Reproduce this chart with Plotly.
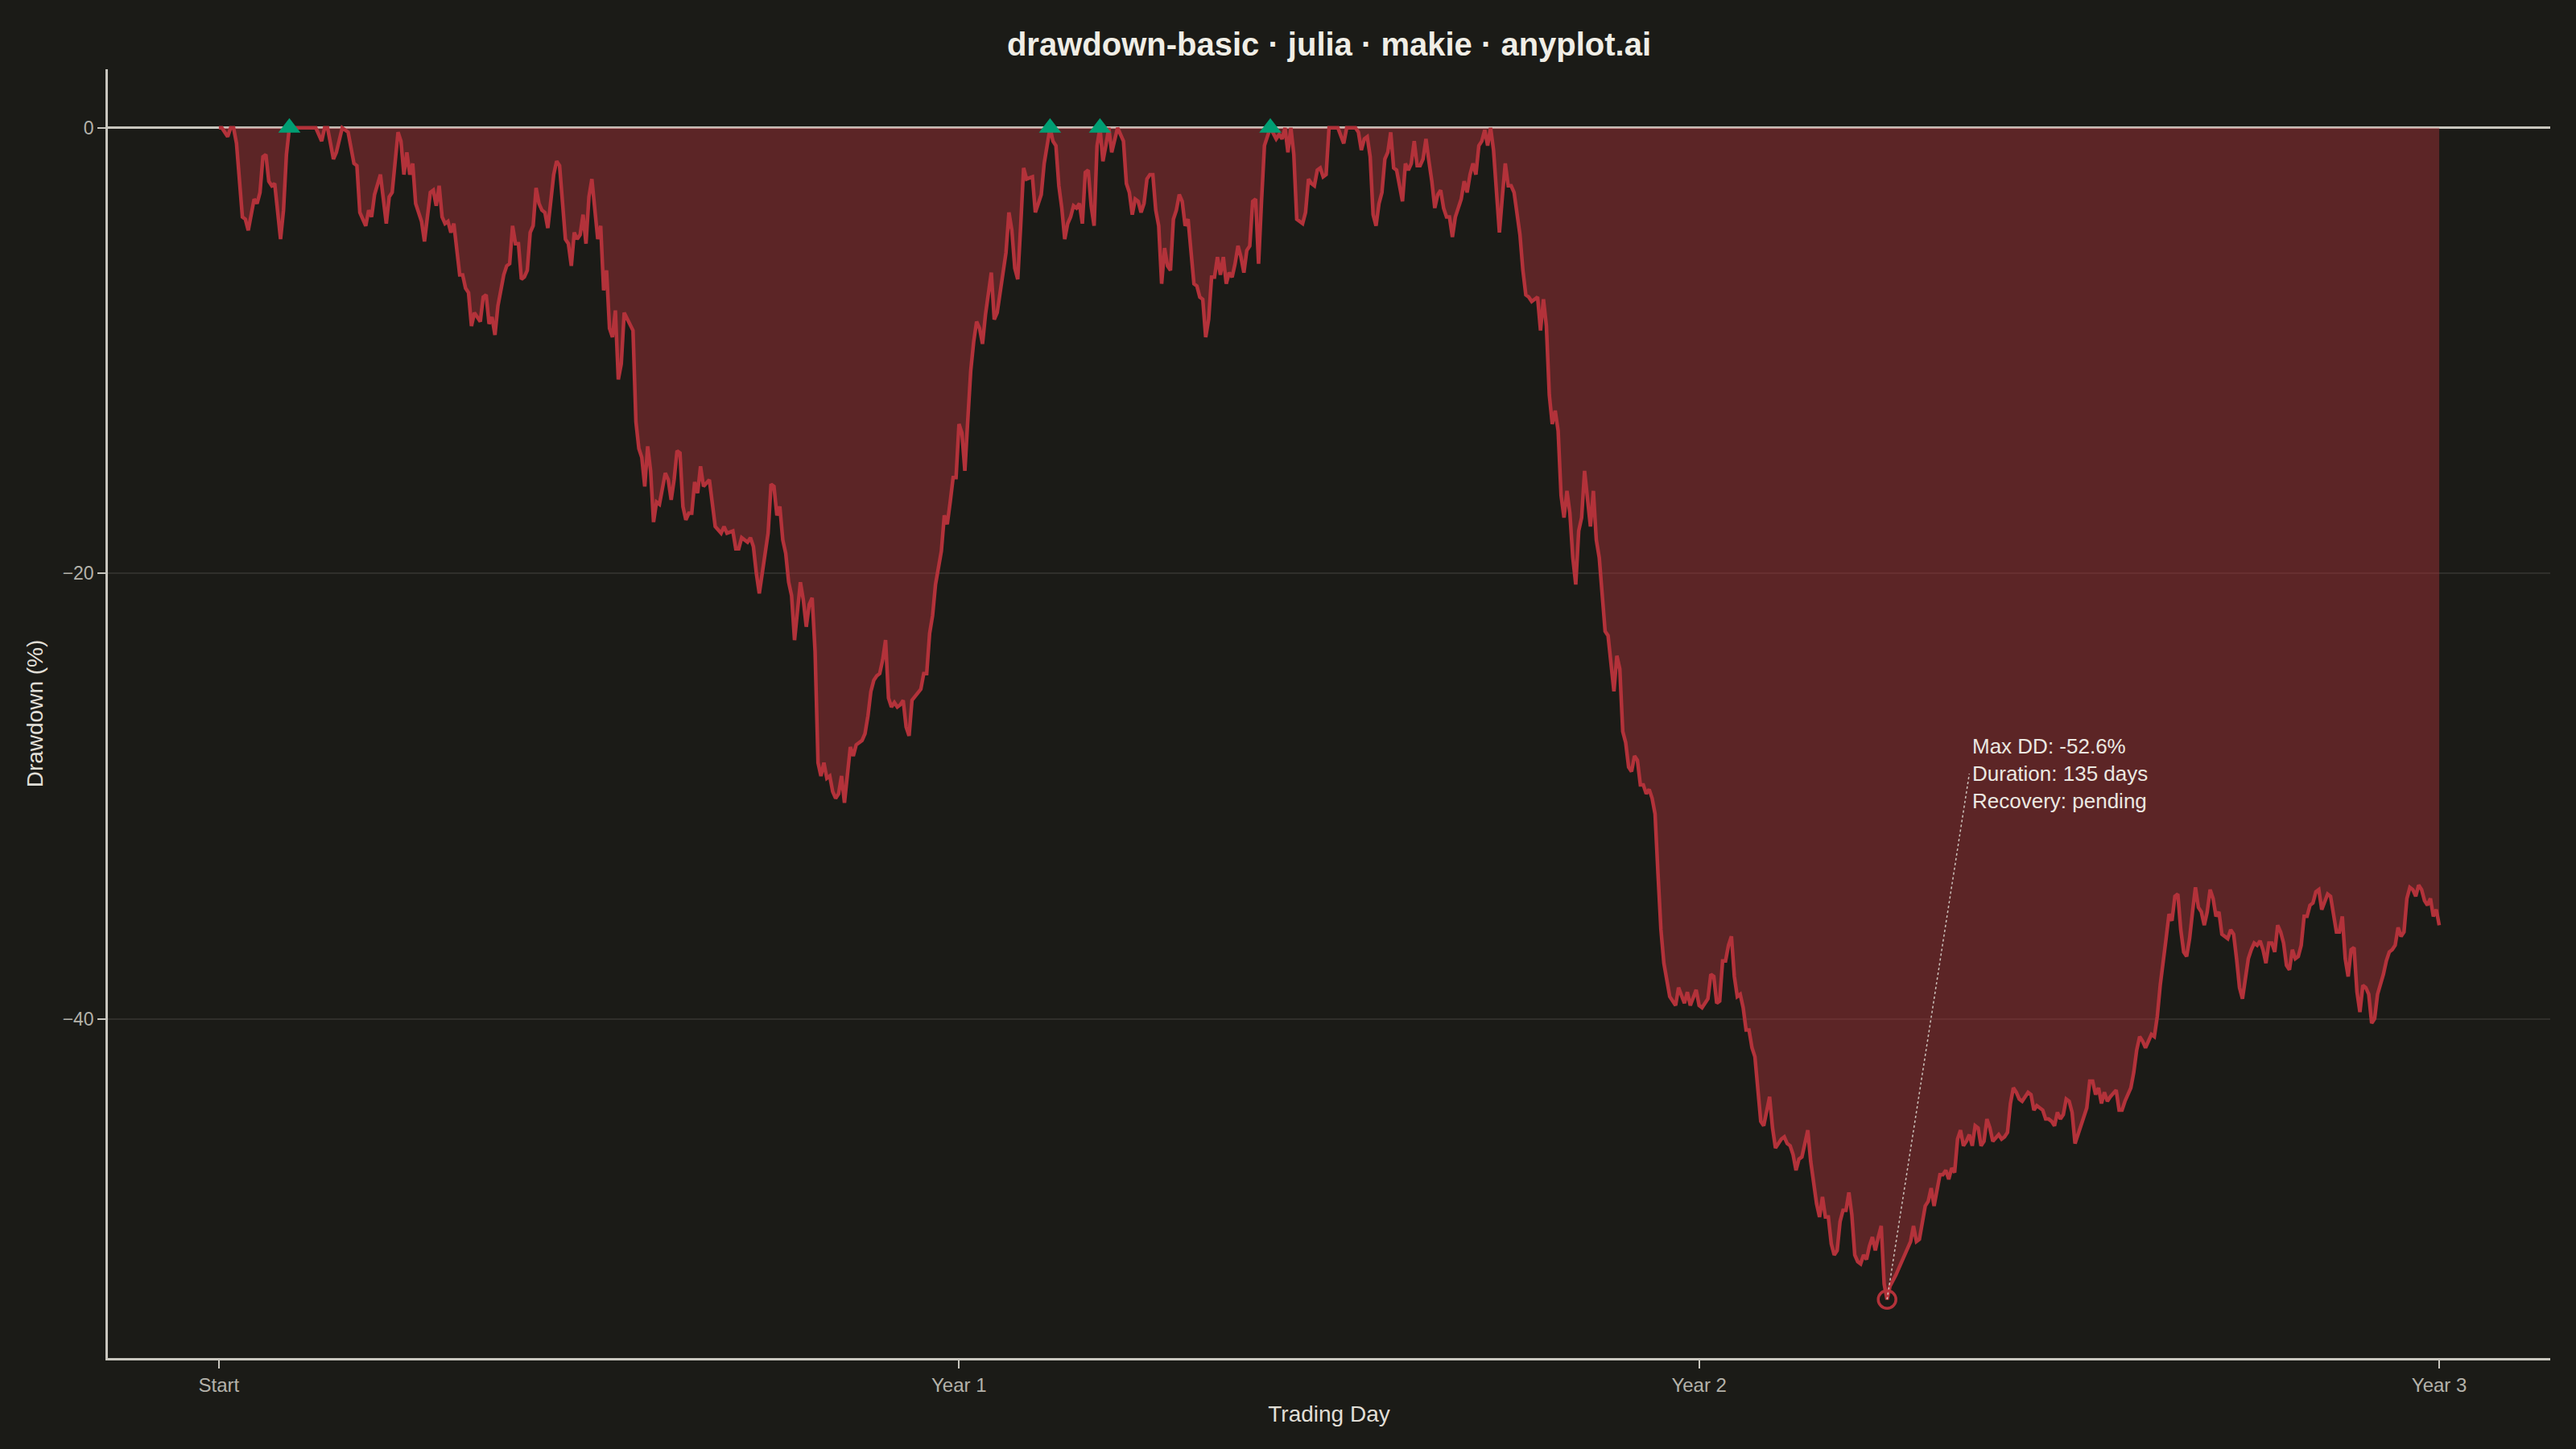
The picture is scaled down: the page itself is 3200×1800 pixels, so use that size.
import plotly.graph_objects as go

year1 = [
    (0, 0.0), (1, 0.0), (3, -0.4), (4, 0.0), (5, 0.0), (6, -0.7), (8, -4.0), (9, -4.1), (10, -4.6),
    (12, -3.2), (13, -3.4), (14, -2.9), (15, -1.3), (16, -1.2), (17, -2.4), (18, -2.6), (19, -2.5),
    (21, -5.0), (22, -3.7), (23, -1.2), (24, 0.0), (26, 0.0), (28, 0.0), (30, 0.0), (33, 0.0),
    (35, -0.6), (36, 0.0), (37, 0.0), (39, -1.4), (40, -1.1), (42, 0.0), (44, -0.2), (46, -1.6),
    (47, -1.7), (48, -3.8), (50, -4.4), (51, -3.7), (52, -4.0), (53, -3.0), (55, -2.1), (57, -4.3),
    (58, -3.1), (59, -2.9), (61, -0.2), (62, -0.6), (63, -2.1), (64, -1.1), (65, -2.1), (66, -1.6),
    (67, -3.4), (69, -4.2), (70, -5.1), (72, -2.9), (73, -2.8), (74, -3.5), (75, -2.6), (76, -4.0),
    (77, -4.3), (78, -4.2), (79, -4.7), (80, -4.3), (82, -6.6), (83, -6.6), (84, -7.2), (85, -7.4),
    (86, -8.9), (87, -8.3), (89, -8.7), (90, -7.6), (91, -7.5), (92, -8.8), (93, -8.5), (94, -9.3),
    (95, -8.0), (97, -6.6), (98, -6.2), (99, -6.1), (100, -4.4), (101, -5.2), (102, -5.2), (103, -6.8),
    (104, -6.7), (105, -6.4), (106, -4.7), (107, -4.4), (108, -2.7), (109, -3.4), (110, -3.7),
    (111, -3.8), (112, -4.5), (114, -2.1), (115, -1.5), (116, -1.7), (118, -5.0), (119, -5.2),
    (120, -6.2), (121, -4.7), (122, -5.0), (123, -4.8), (124, -3.9), (125, -5.2), (126, -3.1),
    (127, -2.3), (129, -5.0), (130, -4.4), (131, -7.3), (132, -6.4), (133, -9.0), (134, -9.4),
    (135, -8.2), (136, -11.3), (137, -10.6), (138, -8.3), (141, -9.1), (142, -13.2), (143, -14.4),
    (144, -14.8), (145, -16.1), (146, -14.3), (147, -15.4), (148, -17.7), (149, -16.8), (150, -16.9),
    (152, -15.5), (153, -15.8), (154, -16.7), (155, -15.8), (156, -14.5), (157, -14.6), (158, -17.0),
    (159, -17.6), (160, -17.3), (161, -17.3), (162, -15.9), (163, -16.4), (164, -15.2), (165, -16.1),
    (167, -15.8), (169, -17.9), (171, -18.2), (172, -17.9), (173, -18.2), (175, -18.1), (176, -18.9),
    (177, -18.9), (178, -18.4), (180, -18.6), (181, -18.4), (182, -18.8), (183, -20.0), (184, -20.9),
    (187, -18.2), (188, -16.0), (189, -16.1), (190, -17.4), (191, -17.0), (192, -18.5), (193, -19.1),
    (194, -20.4), (195, -21.0), (196, -23.0), (198, -20.4), (199, -21.2), (200, -22.4), (201, -21.4),
    (202, -21.1), (203, -23.5), (204, -28.5), (205, -29.1), (206, -28.5), (207, -29.2), (208, -29.1),
    (209, -29.8), (210, -30.1), (211, -29.9), (212, -29.1), (213, -30.3), (215, -27.8), (216, -28.2),
    (217, -27.7), (219, -27.5), (220, -27.2), (221, -26.4), (222, -25.3), (223, -24.8), (224, -24.6),
    (225, -24.5), (226, -23.9), (227, -23.0), (228, -25.6), (229, -26.0), (230, -25.8), (231, -26.0),
    (232, -25.9), (233, -25.7), (234, -26.9), (235, -27.3), (236, -25.7), (238, -25.4), (239, -25.2),
    (240, -24.5), (241, -24.5), (242, -22.7), (243, -21.9), (244, -20.5), (245, -19.8), (246, -19.0),
    (247, -17.4), (248, -17.8), (249, -16.8), (250, -15.7), (251, -15.7), (252, -13.3),
]

year2 = [
    (253, -13.7), (254, -15.4), (255, -13.1), (256, -10.9), (257, -9.6), (258, -8.7), (259, -9.0),
    (260, -9.7), (261, -8.4), (262, -7.3), (263, -6.5), (264, -8.6), (265, -8.3), (266, -7.4),
    (267, -6.6), (268, -5.6), (269, -3.8), (270, -4.6), (271, -6.3), (272, -6.8), (273, -4.4),
    (274, -1.8), (275, -2.3), (277, -2.2), (278, -3.8), (279, -3.4), (280, -3.0), (281, -1.6),
    (282, -0.8), (283, 0.0), (284, -0.6), (285, -0.8), (286, -2.6), (287, -3.6), (288, -5.0),
    (289, -4.3), (290, -4.0), (291, -3.5), (292, -3.6), (293, -3.4), (294, -4.3), (295, -2.0),
    (296, -1.9), (297, -3.5), (298, -4.4), (299, -0.8), (300, 0.0), (301, -1.5), (302, -0.8),
    (303, 0.0), (304, -1.1), (305, -0.5), (306, 0.0), (308, -0.6), (309, -2.5), (310, -2.9),
    (311, -3.9), (312, -3.2), (313, -3.3), (314, -3.8), (315, -3.4), (316, -2.3), (317, -2.1),
    (318, -2.1), (319, -3.7), (320, -4.4), (321, -7.0), (322, -5.4), (323, -6.2), (324, -6.4),
    (325, -4.1), (326, -3.7), (327, -3.0), (328, -3.3), (329, -4.4), (330, -4.1), (332, -7.0),
    (333, -7.1), (334, -7.6), (335, -7.7), (336, -9.4), (337, -8.6), (338, -6.7), (339, -6.7),
    (340, -5.8), (341, -6.6), (342, -5.8), (343, -7.0), (344, -6.5), (345, -6.7), (346, -6.1),
    (347, -5.3), (348, -5.8), (349, -6.5), (350, -5.5), (351, -5.3), (352, -3.3), (353, -3.2),
    (354, -6.1), (355, -3.3), (356, -0.8), (358, 0.0), (360, -0.5), (361, -0.3), (362, -0.5),
    (363, 0.0), (364, -1.1), (365, 0.0), (366, -1.2), (367, -4.1), (369, -4.3), (370, -3.8),
    (371, -2.3), (372, -2.5), (373, -2.6), (374, -1.9), (375, -1.8), (376, -2.2), (377, -2.1),
    (378, 0.0), (379, 0.0), (381, 0.0), (383, -0.7), (384, 0.0), (387, 0.0), (388, -0.2),
    (389, -1.0), (390, -0.5), (391, -0.4), (392, -1.3), (393, -3.9), (394, -4.4), (395, -3.4),
    (396, -2.9), (397, -1.4), (398, -1.1), (399, -0.2), (400, -1.8), (401, -1.9), (402, -2.7),
    (403, -3.3), (404, -1.6), (405, -1.9), (406, -1.6), (407, -0.6), (408, -1.7), (409, -1.7),
    (410, -1.4), (411, -0.5), (412, -1.5), (413, -2.4), (414, -3.6), (415, -3.0), (416, -2.8),
    (417, -3.6), (418, -4.0), (419, -4.0), (420, -4.9), (421, -4.0), (422, -3.6), (423, -3.2),
    (424, -2.4), (425, -2.9), (426, -2.1), (427, -1.6), (428, -2.1), (429, -0.8), (430, -0.6),
    (431, -0.1), (432, -0.8), (433, 0.0), (434, -1.0), (435, -2.9), (436, -4.7), (437, -3.1),
    (438, -1.6), (439, -2.6), (440, -2.6), (441, -2.9), (442, -3.8), (443, -4.8), (444, -6.4),
    (445, -7.5), (446, -7.6), (447, -7.8), (449, -7.6), (450, -9.1), (451, -7.7), (452, -8.9),
    (453, -12.0), (454, -13.3), (455, -12.7), (456, -13.6), (457, -16.5), (458, -17.5), (459, -16.3),
    (460, -17.3), (461, -19.3), (462, -20.5), (463, -18.1), (464, -17.5), (465, -15.4), (466, -16.5),
    (467, -17.9), (468, -16.3), (469, -18.5), (470, -19.3), (471, -20.9), (472, -22.6), (473, -22.8),
    (474, -24.1), (475, -25.3), (476, -23.7), (477, -24.3), (478, -27.1), (479, -27.6), (480, -28.7),
    (481, -28.9), (482, -28.2), (483, -28.4), (484, -29.5), (485, -29.5), (486, -29.9), (487, -29.7),
    (488, -30.1), (489, -30.8), (490, -33.5), (491, -36.0), (492, -37.5), (493, -38.3), (494, -39.0),
    (496, -39.4), (497, -38.6), (499, -39.3), (500, -38.8), (501, -39.4), (503, -38.7), (504, -39.4),
]

year3 = [
    (505, -39.5), (507, -39.1), (508, -38.0), (509, -38.1), (510, -39.3), (511, -39.2), (512, -37.4),
    (513, -37.4), (514, -36.7), (515, -36.3), (516, -38.1), (517, -39.0), (518, -38.9), (519, -39.5),
    (520, -40.5), (521, -40.5), (522, -41.3), (523, -41.7), (524, -43.2), (525, -44.6), (526, -44.8),
    (527, -44.2), (528, -43.5), (529, -44.9), (530, -45.8), (531, -45.6), (532, -45.4), (533, -45.3),
    (534, -45.6), (535, -45.7), (536, -46.1), (537, -46.8), (538, -46.3), (539, -46.2), (540, -45.6),
    (541, -45.0), (542, -46.4), (543, -47.3), (544, -48.3), (545, -48.9), (546, -48.0), (547, -48.9),
    (548, -48.9), (549, -50.1), (550, -50.6), (551, -50.4), (552, -49.1), (553, -48.6), (554, -48.6),
    (555, -47.8), (556, -48.8), (557, -50.6), (558, -50.9), (559, -51.0), (560, -50.6), (561, -50.8),
    (562, -50.2), (563, -49.8), (564, -50.4), (565, -49.8), (566, -49.3), (567, -51.9), (568, -52.6),
    (569, -52.0), (571, -51.5), (573, -50.9), (574, -50.6), (575, -50.2), (576, -50.0), (577, -49.3),
    (578, -50.0), (579, -49.9), (580, -49.1), (581, -48.4), (582, -48.2), (583, -47.6), (584, -48.4),
    (585, -47.6), (586, -47.0), (587, -47.0), (588, -46.8), (589, -47.2), (590, -46.7), (591, -46.9),
    (592, -45.4), (593, -45.0), (594, -45.7), (595, -45.5), (596, -45.2), (597, -45.7), (598, -44.8),
    (599, -44.9), (600, -45.7), (601, -45.5), (602, -44.5), (603, -44.9), (604, -45.5), (606, -45.2),
    (607, -45.4), (608, -45.3), (609, -45.1), (610, -43.8), (611, -43.1), (612, -43.3), (613, -43.6),
    (614, -43.7), (615, -43.5), (616, -43.3), (617, -43.4), (618, -44.1), (619, -43.9), (620, -44.0),
    (621, -44.1), (622, -44.5), (623, -44.5), (624, -44.6), (625, -44.8), (626, -44.2), (627, -44.5),
    (628, -44.3), (629, -43.6), (630, -43.7), (631, -44.2), (632, -45.6), (633, -45.2), (634, -44.8),
    (635, -44.4), (636, -44.0), (637, -42.8), (638, -42.8), (639, -43.4), (640, -43.1), (641, -43.8),
    (642, -43.3), (643, -43.7), (644, -43.5), (646, -43.2), (647, -44.1), (648, -44.1), (649, -43.7),
    (651, -43.1), (652, -42.4), (653, -41.4), (654, -40.8), (655, -41.0), (656, -41.3), (657, -41.0),
    (658, -40.7), (659, -40.8), (660, -39.9), (661, -38.5), (662, -37.3), (663, -36.4), (664, -35.3),
    (665, -35.6), (666, -34.5), (667, -34.4), (668, -36.0), (669, -37.0), (670, -37.2), (671, -36.4),
    (672, -35.2), (673, -34.1), (674, -35.0), (675, -35.2), (676, -35.8), (677, -35.2), (678, -34.2),
    (679, -34.6), (680, -35.4), (681, -35.2), (682, -36.2), (683, -36.3), (684, -36.4), (685, -36.0),
    (686, -36.2), (687, -37.3), (688, -38.6), (689, -39.1), (690, -38.2), (691, -37.3), (692, -36.9),
    (693, -36.6), (694, -36.7), (695, -36.5), (696, -36.9), (697, -37.5), (698, -36.6), (699, -36.6),
    (700, -37.0), (701, -35.8), (702, -36.1), (703, -36.6), (704, -37.6), (705, -37.8), (706, -36.9),
    (707, -37.3), (708, -37.2), (709, -36.7), (710, -35.4), (711, -35.4), (712, -34.9), (713, -34.8),
    (714, -34.3), (715, -34.2), (716, -35.1), (717, -34.7), (718, -34.4), (719, -34.5), (720, -35.3),
    (721, -36.1), (722, -36.1), (723, -35.4), (724, -37.3), (725, -38.1), (726, -36.9), (727, -36.8),
    (728, -38.8), (729, -39.7), (730, -38.5), (731, -38.6), (732, -38.9), (733, -40.2), (734, -40.0),
    (735, -38.9), (737, -38.0), (738, -37.4), (739, -37.0), (740, -36.9), (741, -36.7), (742, -35.9),
    (743, -36.3), (744, -36.1), (745, -34.6), (746, -34.1), (747, -34.2), (748, -34.5), (749, -34.0),
    (750, -34.2), (751, -34.7), (752, -34.9), (753, -34.6), (754, -35.4), (755, -35.1), (756, -35.8),
]

# Days where the equity curve got back to a new high (green markers)
recovery_days = [24, 283, 300, 358]

tick_days = [0, 252, 504, 756]
tick_labels = ["Start", "Year 1", "Year 2", "Year 3"]

# Where the max drawdown label sits
label_day = 596
label_dd = -29.0

RED = "#b3323a"
GREEN = "#009e73"
BG = "#1b1b17"
FONT = "Liberation Sans, Arial, sans-serif"


def drawdown_chart():
    rows = year1 + year2 + year3
    days = [d for d, _ in rows]
    dd = [v for _, v in rows]

    # Max drawdown and how long it has been running since the last high
    trough = min(range(len(dd)), key=lambda i: dd[i])
    trough_day, trough_dd = days[trough], dd[trough]
    peak_day = max(d for d, v in zip(days[: trough + 1], dd[: trough + 1]) if v == 0)
    recovered = any(v == 0 for v in dd[trough:])

    fig = go.Figure()

    # Filled underwater area
    fig.add_trace(
        go.Scatter(
            x=days,
            y=dd,
            mode="lines",
            fill="tozeroy",
            fillcolor="rgba(179,50,58,0.43)",
            line=dict(color=RED, width=4.5),
            hoverinfo="skip",
        )
    )

    # Recovery markers on the zero line
    fig.add_trace(
        go.Scatter(
            x=recovery_days,
            y=[dd[days.index(d)] for d in recovery_days],
            mode="markers",
            marker=dict(symbol="triangle-up", size=24, color=GREEN),
        )
    )

    # Dotted leader from the trough to the label
    fig.add_trace(
        go.Scatter(
            x=[trough_day, label_day],
            y=[trough_dd, label_dd],
            mode="lines",
            line=dict(color="rgba(225,222,214,0.85)", width=1.5, dash="dot"),
        )
    )

    # Max drawdown point
    fig.add_trace(
        go.Scatter(
            x=[trough_day],
            y=[trough_dd],
            mode="markers",
            marker=dict(symbol="circle-open", size=22, color=RED, line=dict(width=3.5, color=RED)),
        )
    )

    fig.add_annotation(
        x=label_day,
        y=label_dd,
        xref="x",
        yref="y",
        text=(
            f"Max DD: {trough_dd:.1f}%<br>"
            f"Duration: {trough_day - peak_day} days<br>"
            f"Recovery: {'done' if recovered else 'pending'}"
        ),
        showarrow=False,
        xanchor="left",
        yanchor="middle",
        align="left",
        xshift=2,
        font=dict(family=FONT, size=26, color="#ebe8e1"),
    )

    span_x = tick_days[-1] - tick_days[0]
    span_y = 0 - trough_dd

    fig.update_layout(
        width=3200,
        height=1800,
        showlegend=False,
        paper_bgcolor=BG,
        plot_bgcolor=BG,
        margin=dict(l=134, r=32, t=86, b=113),
        font=dict(family=FONT, color="#e0ded6"),
        title=dict(
            text="<b>drawdown-basic · julia · makie · anyplot.ai</b>",
            x=0.5,
            xref="paper",
            xanchor="center",
            y=1 - 55 / 1800,
            yref="container",
            yanchor="middle",
            font=dict(family=FONT, size=40, color="#f0eee6"),
        ),
        xaxis=dict(
            range=[tick_days[0] - 0.05 * span_x, tick_days[-1] + 0.05 * span_x],
            tickvals=tick_days,
            ticktext=tick_labels,
            showgrid=False,
            zeroline=False,
            showline=True,
            linecolor="#c8c6be",
            linewidth=2.5,
            ticks="outside",
            ticklen=10,
            tickwidth=2,
            tickcolor="#c8c6be",
            tickfont=dict(size=24, color="#b4b2aa"),
            title=dict(text="Trading Day", font=dict(size=28, color="#e0ded6"), standoff=14),
        ),
        yaxis=dict(
            range=[trough_dd - 0.05 * span_y, 0.05 * span_y],
            tickvals=[0, -20, -40],
            ticktext=["0", "\u221220", "\u221240"],
            showgrid=True,
            gridcolor="#302f2b",
            gridwidth=1.5,
            zeroline=True,
            zerolinecolor="#c8c6be",
            zerolinewidth=2.5,
            showline=True,
            linecolor="#c8c6be",
            linewidth=2.5,
            ticks="outside",
            ticklen=10,
            tickwidth=2,
            tickcolor="#c8c6be",
            tickfont=dict(size=23, color="#b4b2aa"),
            title=dict(text="Drawdown (%)", font=dict(size=28, color="#e0ded6"), standoff=16),
        ),
    )

    # Drop the page margin so the figure sits flush in the window, no toolbar
    fig.write_html(
        "out.html",
        config={"displayModeBar": False},
        post_script=f"document.body.style.margin='0';document.body.style.background='{BG}';",
    )


if __name__ == "__main__":
    drawdown_chart()
